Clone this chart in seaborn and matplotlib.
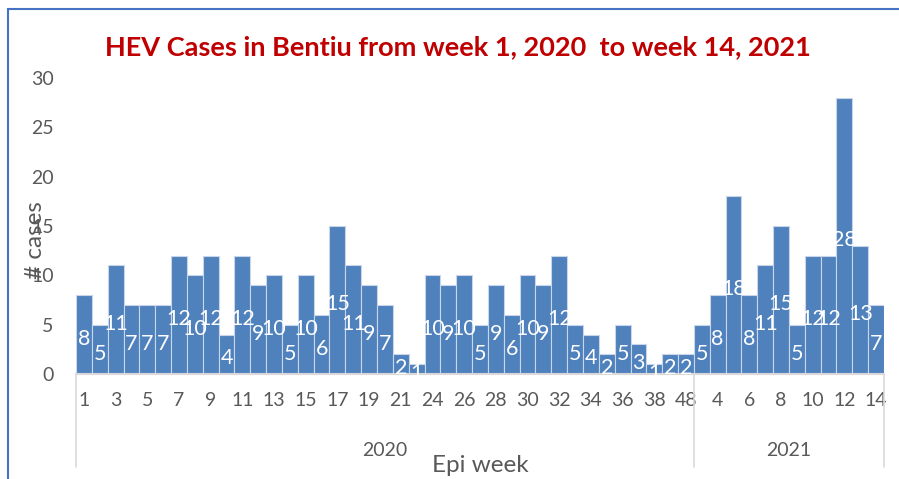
import matplotlib
matplotlib.use("Agg")
import matplotlib.pyplot as plt
import seaborn as sns
import pandas as pd
from matplotlib.patches import Rectangle
from matplotlib.lines import Line2D

# ---- data ----
weeks_2020 = [1, 2, 3, 4, 5, 6, 7, 8, 9, 10, 11, 12, 13, 14, 15, 16, 17, 18, 19, 20, 21, 22,
              24, 25, 26, 27, 28, 29, 30, 31, 32, 33, 34, 35, 36, 37, 38, 47, 48]
cases_2020 = [8, 5, 11, 7, 7, 7, 12, 10, 12, 4, 12, 9, 10, 5, 10, 6, 15, 11, 9, 7, 2, 1,
              10, 9, 10, 5, 9, 6, 10, 9, 12, 5, 4, 2, 5, 3, 1, 2, 2]
weeks_2021 = [3, 4, 5, 6, 7, 8, 9, 10, 11, 12, 13, 14]
cases_2021 = [5, 8, 18, 8, 11, 15, 5, 12, 12, 28, 13, 7]
years = ["2020", "2021"]
title = "HEV Cases in Bentiu from week 1, 2020  to week 14, 2021"

df = pd.DataFrame({
    "key": [f"{years[0]}-{w}" for w in weeks_2020] + [f"{years[1]}-{w}" for w in weeks_2021],
    "week": weeks_2020 + weeks_2021,
    "cases": cases_2020 + cases_2021,
})

sns.set_theme(style="white")
plt.rcParams["font.family"] = ["Lato", "DejaVu Sans"]

W, H = 899, 479
fig = plt.figure(figsize=(W / 100, H / 100), dpi=100)
ax = fig.add_axes([76 / W, (H - 374) / H, 808 / W, 296 / H])

sns.barplot(data=df, x="key", y="cases", color="#4F81BD", width=1.0, saturation=1,
            edgecolor="#C9D6EA", linewidth=0.8, ax=ax, errorbar=None)

for c in ax.containers:
    labs = ax.bar_label(c, label_type="center", color="white", fontsize=15.5)
    for t in labs:
        x, y = t.xyann
        t.xyann = (x, y - 3)

n = len(df)
ax.set_xlim(-0.5, n - 0.5)
ax.set_ylim(0, 30)
ax.set_yticks(range(0, 31, 5))
ax.set_xticks(range(n))
ax.set_xticklabels([str(w) if i % 2 == 0 else "" for i, w in enumerate(df["week"])])
ax.tick_params(axis="x", length=0, pad=13, labelsize=14, labelcolor="#595959")
ax.tick_params(axis="y", length=0, pad=16, labelsize=14, labelcolor="#595959")
ax.set_xlabel("")
ax.set_ylabel("")
for s in ["top", "right", "left"]:
    ax.spines[s].set_visible(False)
ax.spines["bottom"].set_color("#D9D9D9")
ax.spines["bottom"].set_linewidth(1.5)

# group separators
def fy(y):
    return (H - y) / H

for xp in [76, 694, 884]:
    fig.add_artist(Line2D([xp / W, xp / W], [fy(374), fy(467)], color="#D9D9D9", lw=1.2))

fig.text(385 / W, fy(450), years[0], ha="center", va="center", fontsize=14, color="#595959")
fig.text(789 / W, fy(450), years[1], ha="center", va="center", fontsize=14, color="#595959")
fig.text(480 / W, fy(465), "Epi week", ha="center", va="center", fontsize=17.5, color="#595959")
fig.text(36 / W, fy(240), "# cases", ha="center", va="center", rotation=90, fontsize=17.5, color="#595959")
fig.text(458 / W, fy(47), title, ha="center", va="center", fontsize=19.5,
         fontweight="bold", color="#C00000")

fig.add_artist(Rectangle((8 / W, -0.1), 1.2, fy(9) + 0.1, transform=fig.transFigure,
                         fill=False, edgecolor="#4472C4", lw=1.5))

fig.savefig("out.png", dpi=100)
